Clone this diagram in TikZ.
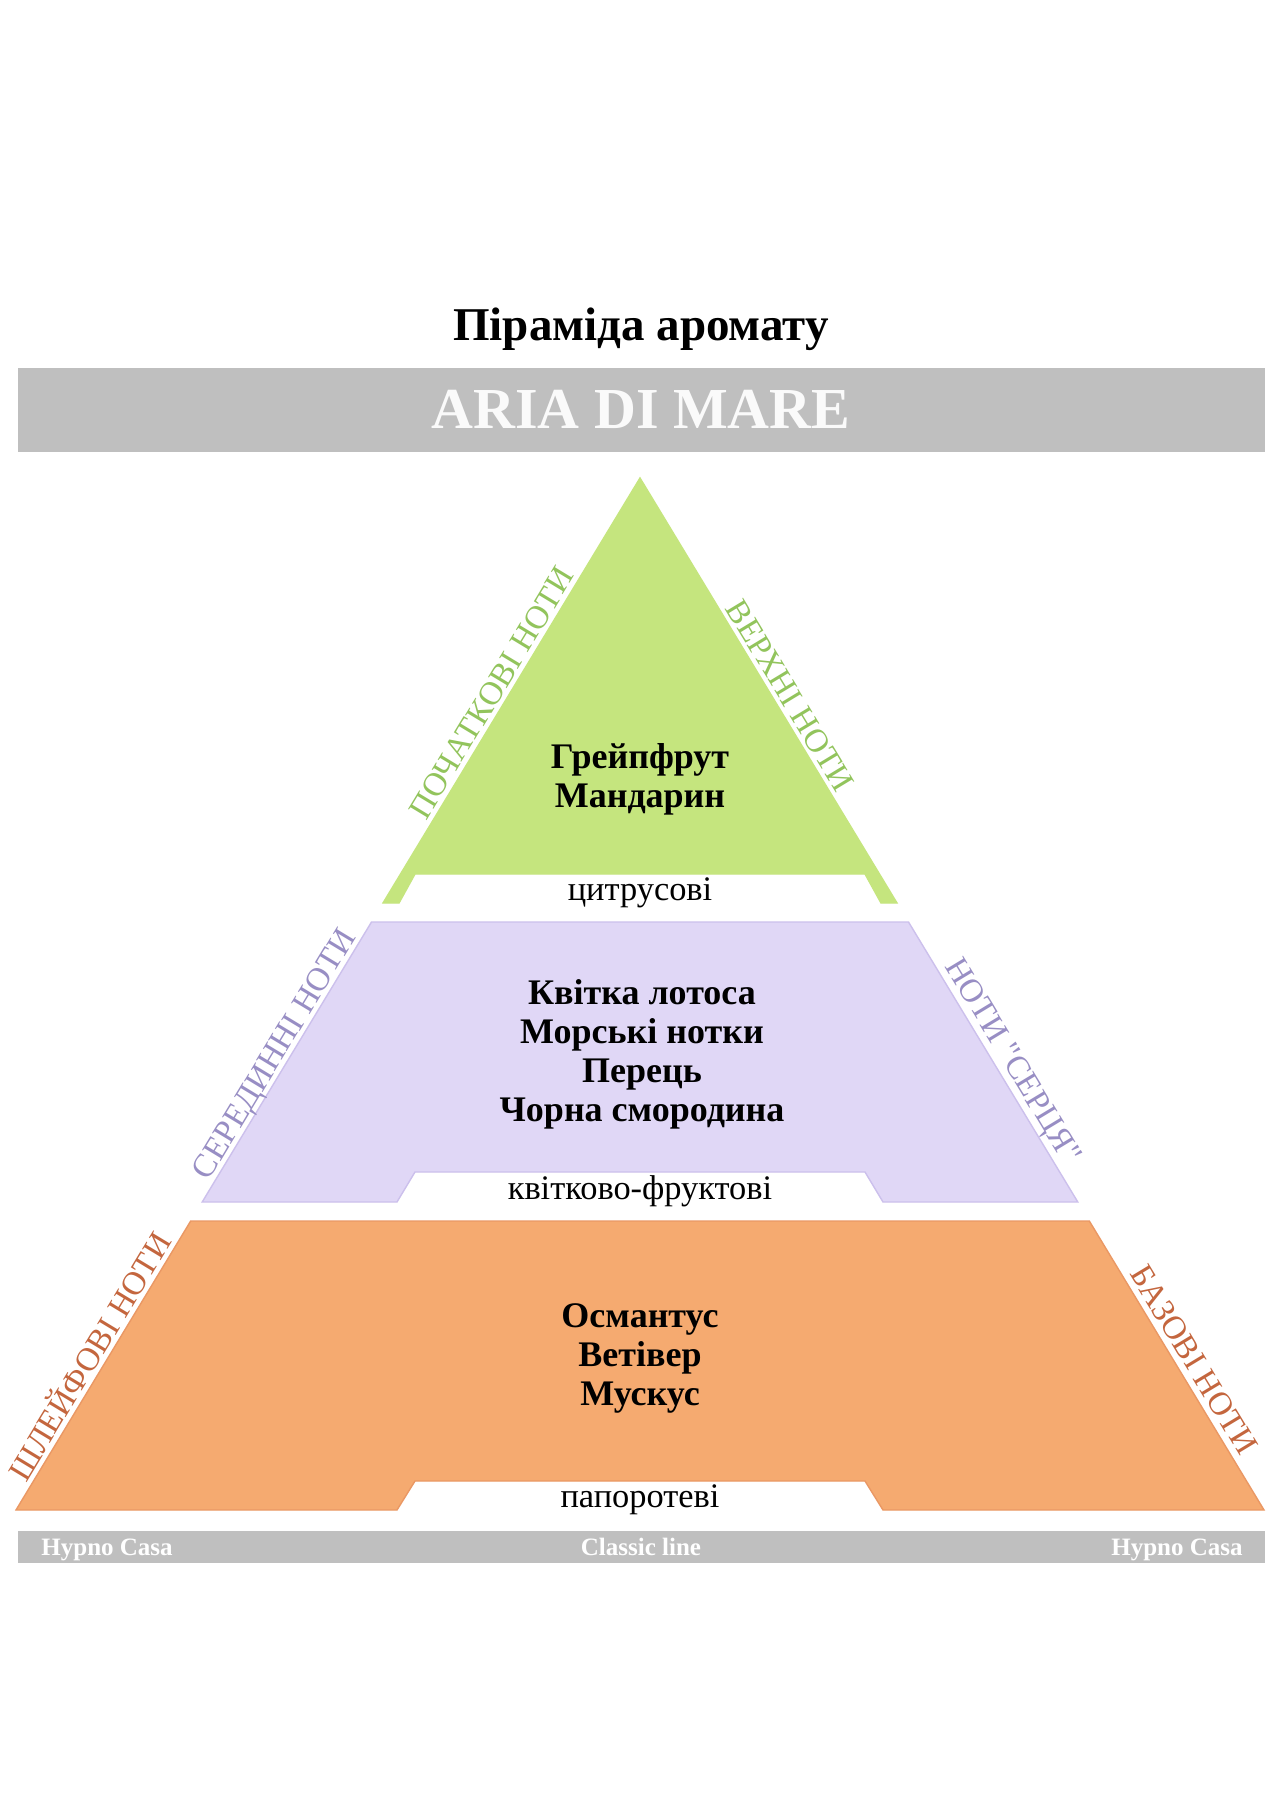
\documentclass[tikz,border=0pt]{standalone}
\usepackage{fontspec}
\setmainfont{Liberation Serif}

\definecolor{topgreen}{RGB}{197,229,126}
\definecolor{topgreentext}{RGB}{146,196,92}
\definecolor{heartlilac}{RGB}{224,215,246}
\definecolor{heartlilacedge}{RGB}{204,192,236}
\definecolor{heartlilactext}{RGB}{152,142,196}
\definecolor{baseorange}{RGB}{245,170,112}
\definecolor{baseorangeedge}{RGB}{234,152,100}
\definecolor{baseorangetext}{RGB}{196,102,62}
\definecolor{bannergray}{RGB}{191,191,191}

\tikzset{
  layer/.style={line width=0.7pt, line join=miter},
  notes/.style={font=\fontsize{18}{19.5}\selectfont\bfseries, align=center},
  accord/.style={font=\fontsize{17.2}{19}\selectfont, anchor=base},
  sidelabel/.style={font=\fontsize{16.5}{18}\selectfont, anchor=base, inner sep=0pt},
  footer/.style={font=\fontsize{12.5}{14}\selectfont\bfseries, text=white, anchor=base, inner sep=0pt},
}

\begin{document}
\begin{tikzpicture}[x=0.5pt, y=-0.5pt]
  % Page
  \fill[white] (0,0) rectangle (1284,1819);
  \useasboundingbox (0,0) rectangle (1284,1819);

  % Title and banner
  \node[font=\fontsize{23.5}{26}\selectfont\bfseries, anchor=base] (title) at (641,340) {Піраміда аромату};
  \fill[bannergray] (18,368) rectangle (1265,452);
  \node[font=\fontsize{29}{32}\selectfont\bfseries, text=white!98!black, anchor=base] (perfume) at (641,428) {ARIA DI MARE};

  % Top notes
  \draw[layer, fill=topgreen, draw=topgreen] (640,478) -- (897,903) -- (881,903) -- (865,874)
    -- (415,874) -- (399,903) -- (383,903) -- cycle;
  \node[notes] (topnotes) at (640,779) {Грейпфрут\\Мандарин};
  \node[accord] (topaccord) at (640,900) {цитрусові};
  \node[sidelabel, text=topgreentext, rotate=58.84] (topleft) at (500.9,698.4) {ПОЧАТКОВІ НОТИ};
  \node[sidelabel, text=topgreentext, rotate=-58.84] (topright) at (781.0,701.4) {ВЕРХНІ НОТИ};

  % Heart notes
  \draw[layer, fill=heartlilac, draw=heartlilacedge] (371.5,922) -- (908.5,922) -- (1077.8,1202)
    -- (883,1202) -- (865,1172) -- (415,1172) -- (397,1202) -- (202.2,1202) -- cycle;
  \node[notes] (heartnotes) at (642,1054.5) {Квітка лотоса\\Морські нотки\\Перець\\Чорна смородина};
  \node[accord] (heartaccord) at (640,1199.5) {квітково-фруктові};
  \node[sidelabel, text=heartlilactext, rotate=58.84] (heartleft) at (282.6,1059.4) {СЕРЕДИННІ НОТИ};
  \node[sidelabel, text=heartlilactext, rotate=-58.84, font=\fontsize{16.5}{18}\selectfont\addfontfeature{Ligatures=TeXOff}] (heartright) at (1004.8,1065.9) {НОТИ "СЕРЦЯ"};

  % Base notes
  \draw[layer, fill=baseorange, draw=baseorangeedge] (190.7,1221) -- (1089.3,1221) -- (1264,1510)
    -- (883,1510) -- (865,1481) -- (415,1481) -- (397,1510) -- (16,1510) -- cycle;
  \node[notes] (basenotes) at (640,1358) {Османтус\\Ветівер\\Мускус};
  \node[accord] (baseaccord) at (640,1507.5) {папоротеві};
  \node[sidelabel, text=baseorangetext, rotate=58.84] (baseleft) at (99.3,1362.4) {ШЛЕЙФОВІ НОТИ};
  \node[sidelabel, text=baseorangetext, rotate=-58.84] (baseright) at (1184.8,1365.4) {БАЗОВІ НОТИ};

  % Footer
  \fill[bannergray] (18,1531) rectangle (1265,1563);
  \node[footer, anchor=base west] (brandleft) at (41,1555) {Hypno Casa};
  \node[footer] (line) at (641,1555) {Classic line};
  \node[footer, anchor=base east] (brandright) at (1243,1555) {Hypno Casa};
\end{tikzpicture}
\end{document}
